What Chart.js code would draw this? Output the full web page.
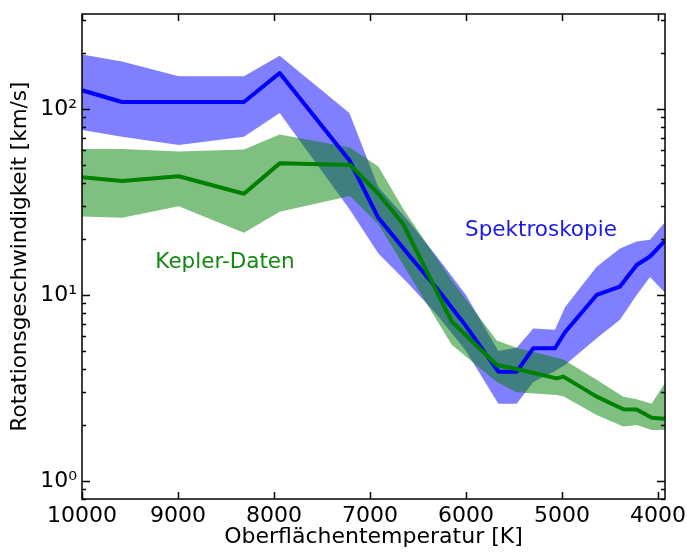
<!DOCTYPE html>
<html>
<head>
<meta charset="utf-8">
<script src="https://cdn.jsdelivr.net/npm/chart.js@4/dist/chart.umd.min.js"></script>
<style>
  body { margin: 0; background: #fff; }
  #wrap { width: 687px; height: 553px; }
</style>
</head>
<body>
<div id="wrap"><canvas id="chart" width="687" height="553"></canvas></div>
<script>
// Spektroskopie (blue): temperature bins, median and band
const specT    = [10000, 9583, 8993, 8313, 7941, 7215, 6913, 6600, 6300, 6000, 5663, 5472, 5299, 5073, 4969, 4639, 4396, 4222, 4083, 3930];
const specMid  = [126, 109, 109, 109, 156, 53, 26, 16.5, 10.8, 6.8, 3.87, 3.87, 5.17, 5.17, 6.3, 10, 11.1, 14.5, 16.1, 19.5];
const specHigh = [196, 180, 150, 150, 193, 95, 38, 25, 16, 10, 5.0, 5.2, 6.6, 6.5, 8.6, 14.2, 17.8, 19.4, 19.8, 24.5];
const specLow  = [77, 71, 64, 71, 95, 29, 16.7, 11.5, 7.8, 5.0, 2.6, 2.6, 3.4, 3.9, 4.2, 5.85, 7.35, 10, 12.5, 10.3];

// Kepler-Daten (green)
const kepT    = [10000, 9583, 8993, 8313, 7941, 7208, 6913, 6653, 6149, 5680, 5472, 5055, 4986, 4639, 4361, 4222, 4066, 3930];
const kepMid  = [43, 41, 43.5, 35, 51, 50, 35, 24, 7.2, 4.2, 4.0, 3.56, 3.64, 2.84, 2.43, 2.42, 2.19, 2.16];
const kepHigh = [61, 61, 59, 60.5, 73, 62, 49, 29, 12, 5.7, 5.2, 4.6, 4.5, 3.5, 2.84, 2.75, 2.6, 3.35];
const kepLow  = [26.4, 26, 30, 21.6, 28, 34, 24, 14.5, 5.4, 3.4, 3.0, 2.9, 2.85, 2.26, 1.96, 2.0, 1.88, 1.88];

const xTicks = [10000, 9000, 8000, 7000, 6000, 5000, 4000];
const yTicks = [1, 10, 100];
const sup = ["⁰", "¹", "²", "³"];

const pts = (xs, ys) => xs.map((x, i) => ({ x, y: ys[i] }));

const FONT = "'DejaVu Sans', sans-serif";

function lineSet(label, xs, ys, color, order) {
  return {
    label, data: pts(xs, ys), borderColor: color, borderWidth: 4,
    pointRadius: 0, fill: false, tension: 0, order,
    borderJoinStyle: "round", borderCapStyle: "butt",
  };
}
function bandSet(xs, ys, fillTo, color, order) {
  return {
    data: pts(xs, ys), borderWidth: 0, borderColor: "rgba(0,0,0,0)",
    pointRadius: 0, tension: 0, order,
    fill: fillTo === null ? false : { target: fillTo }, backgroundColor: color,
  };
}

// matplotlib-style box with inward ticks, plus the two in-plot labels
const frame = {
  id: "frame",
  afterDatasetsDraw(chart) {
    const { ctx, chartArea: a, scales: { x, y } } = chart;
    ctx.save();
    ctx.strokeStyle = "#000";
    ctx.lineWidth = 1.5;
    ctx.strokeRect(a.left, a.top, a.right - a.left, a.bottom - a.top);
    ctx.beginPath();
    xTicks.forEach((t) => {
      const px = Math.round(x.getPixelForValue(t)) + 0.5;
      ctx.moveTo(px, a.bottom); ctx.lineTo(px, a.bottom - 7);
      ctx.moveTo(px, a.top); ctx.lineTo(px, a.top + 7);
    });
    for (let d = -1; d <= 2; d++) {
      for (let m = 1; m <= 9; m++) {
        const v = m * Math.pow(10, d);
        if (v < y.min || v > y.max) continue;
        const py = Math.round(y.getPixelForValue(v)) + 0.5;
        const len = m === 1 ? 8 : 4;
        ctx.moveTo(a.left, py); ctx.lineTo(a.left + len, py);
        ctx.moveTo(a.right, py); ctx.lineTo(a.right - len, py);
      }
    }
    ctx.stroke();

    ctx.font = "21.5px " + FONT;
    ctx.textAlign = "center";
    ctx.textBaseline = "middle";
    ctx.fillStyle = "#118811";
    ctx.fillText("Kepler-Daten", x.getPixelForValue(8510), y.getPixelForValue(15));
    ctx.fillStyle = "#1a1ae6";
    ctx.fillText("Spektroskopie", x.getPixelForValue(5219), y.getPixelForValue(22.3));
    ctx.restore();
  },
};

new Chart(document.getElementById("chart"), {
  type: "line",
  data: {
    datasets: [
      lineSet("Kepler-Daten", kepT, kepMid, "#008000", 0),
      lineSet("Spektroskopie", specT, specMid, "#0000ff", 1),
      bandSet(kepT, kepHigh, 3, "rgba(0,128,0,0.5)", 2),
      bandSet(kepT, kepLow, null, "rgba(0,0,0,0)", 3),
      bandSet(specT, specHigh, 5, "rgba(0,0,255,0.5)", 4),
      bandSet(specT, specLow, null, "rgba(0,0,0,0)", 5),
    ],
  },
  options: {
    responsive: false,
    animation: false,
    layout: { padding: { top: 14, right: 22, left: 0, bottom: 0 } },
    plugins: {
      legend: { display: false },
      tooltip: { enabled: false },
      filler: { drawTime: "beforeDatasetDraw" },
    },
    scales: {
      x: {
        type: "linear",
        reverse: true,
        min: 3927,
        max: 10000,
        afterBuildTicks: (s) => { s.ticks = xTicks.map((v) => ({ value: v })); },
        afterFit: (s) => { s.height = 54; s.paddingLeft = 0; s.paddingRight = 0; },
        grid: { display: false, drawTicks: false },
        border: { display: false },
        ticks: { color: "#000", font: { family: FONT, size: 22 }, padding: 4, maxRotation: 0, callback: (v) => String(v) },
        title: { display: true, text: "Oberflächentemperatur [K]", color: "#000", font: { family: FONT, size: 22 }, padding: { top: 0, bottom: 3 } },
      },
      y: {
        type: "logarithmic",
        min: 0.8,
        max: 324,
        afterBuildTicks: (s) => { s.ticks = yTicks.map((v) => ({ value: v })); },
        afterFit: (s) => { s.width = 82; s.paddingTop = 0; s.paddingBottom = 0; },
        grid: { display: false, drawTicks: false },
        border: { display: false },
        ticks: {
          color: "#000", font: { family: FONT, size: 22 }, padding: 5,
          callback: (v) => "10" + sup[Math.round(Math.log10(v))],
        },
        title: { display: true, text: "Rotationsgeschwindigkeit [km/s]", color: "#000", font: { family: FONT, size: 21.5 }, padding: { top: 8, bottom: 0 } },
      },
    },
  },
  plugins: [frame],
});
</script>
</body>
</html>
